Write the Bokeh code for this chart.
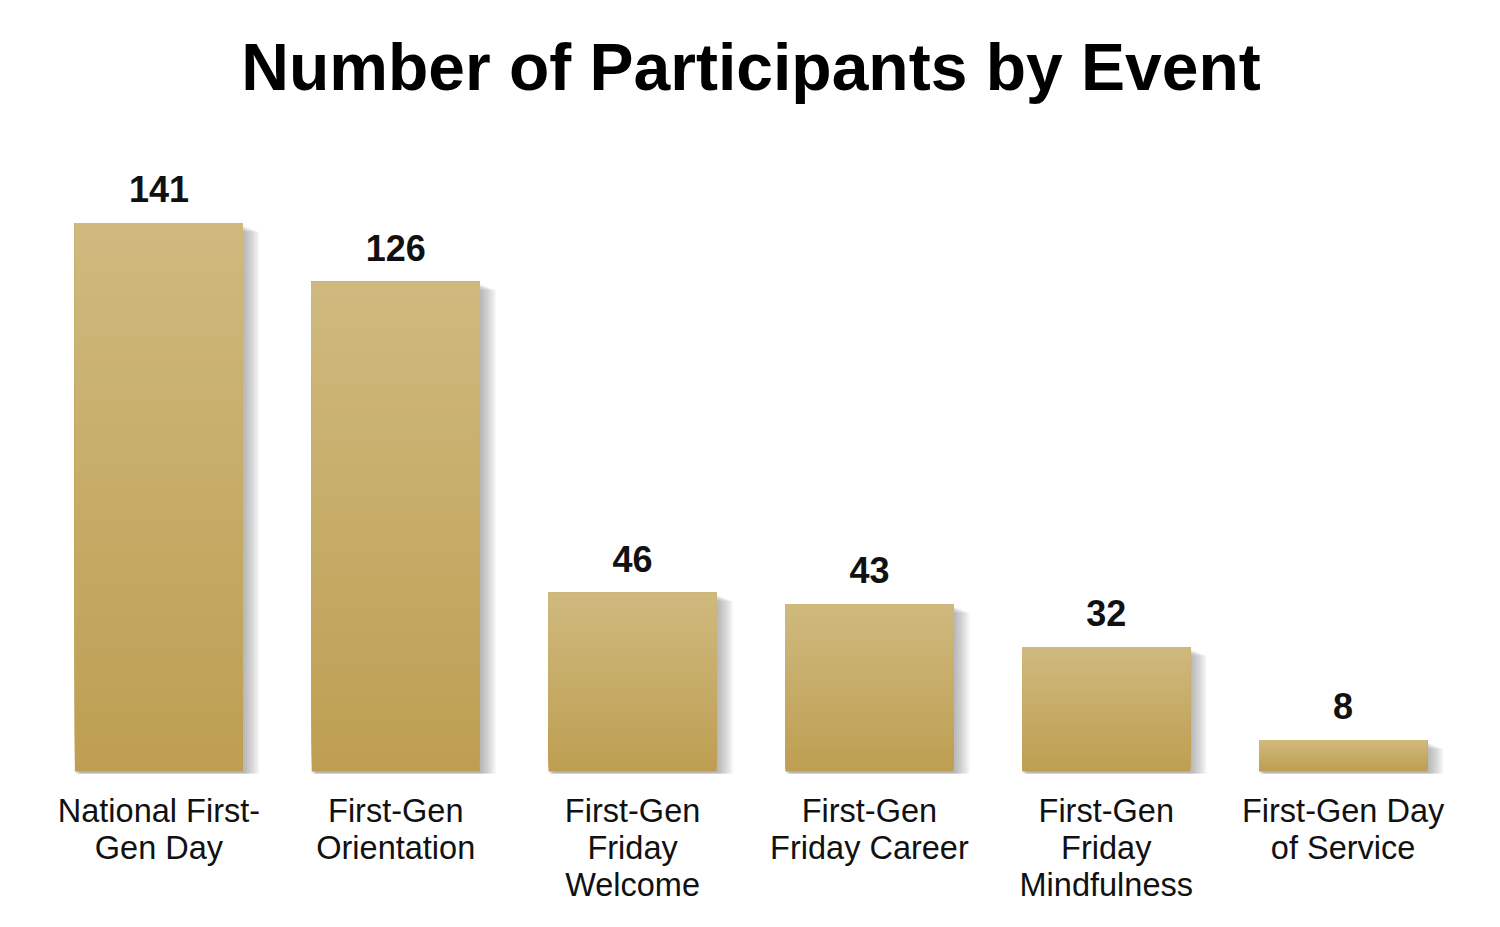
from bokeh.plotting import figure
from bokeh.models import ColumnDataSource, FactorRange, Range1d, Label
from bokeh.core.properties import value
from bokeh.embed import file_html
from bokeh.resources import INLINE

events = [
    "National First-Gen Day",
    "First-Gen Orientation",
    "First-Gen Friday Welcome",
    "First-Gen Friday Career",
    "First-Gen Friday Mindfulness",
    "First-Gen Day of Service",
]
participants = [141, 126, 46, 43, 32, 8]
tick_labels = [
    "National First-\nGen Day",
    "First-Gen\nOrientation",
    "First-Gen\nFriday\nWelcome",
    "First-Gen\nFriday Career",
    "First-Gen\nFriday\nMindfulness",
    "First-Gen Day\nof Service",
]
chart_title = "Number of Participants by Event"

TOP_RGB = (207, 185, 126)
BOT_RGB = (190, 159, 82)
N_SLICES = 60
BAR_W = 0.71

FRAME_W = 1421
PLOT_H = 763          # pixels above the baseline (title lives in here too)
LABEL_H = 145         # pixels below the baseline, room for category labels
PX_PER_UNIT = 3.887
ncat = len(events)
px_x = ncat / FRAME_W        # data units per pixel along x
px_y = 1.0 / PX_PER_UNIT     # data units per pixel along y

p = figure(
    x_range=FactorRange(*events, range_padding=0),
    y_range=Range1d(-LABEL_H / PX_PER_UNIT, PLOT_H / PX_PER_UNIT),
    frame_width=FRAME_W,
    frame_height=PLOT_H + LABEL_H,
    min_border_left=40,
    min_border_right=31,
    min_border_top=8,
    min_border_bottom=5,
    output_backend="svg",
    toolbar_location=None,
    tools="",
)

# ---- title, placed in screen units inside the frame ----
p.add_layout(Label(
    x=FRAME_W / 2, y=PLOT_H + LABEL_H - 58, x_units="screen", y_units="screen",
    text=chart_title, text_font="Liberation Sans", text_font_size="66px",
    text_font_style="bold", text_color="#000000",
    text_align="center", text_baseline="alphabetic",
))

# ---- soft drop shadow: translucent offset copies ----
for dx in range(2, 18, 2):
    left, right, top, bottom = [], [], [], []
    for i, v in enumerate(participants):
        c = i + 0.5
        left.append(c - BAR_W / 2 + dx * px_x * 0.3)
        right.append(c + BAR_W / 2 + dx * px_x)
        top.append(v - (2 + dx * 0.4) * px_y)
        bottom.append(-2 * px_y)
    p.quad(left=left, right=right, top=top, bottom=bottom,
           fill_color="#707070", fill_alpha=0.08, line_color=None)

# ---- bars with vertical gradient (overlapping slices, no seams) ----
sl = dict(left=[], right=[], top=[], bottom=[], color=[])
for i, v in enumerate(participants):
    c = i + 0.5
    for k in range(N_SLICES):
        t = k / (N_SLICES - 1)
        rgb = tuple(round(BOT_RGB[j] + (TOP_RGB[j] - BOT_RGB[j]) * t) for j in range(3))
        sl["left"].append(c - BAR_W / 2)
        sl["right"].append(c + BAR_W / 2)
        sl["bottom"].append(v * k / N_SLICES)
        sl["top"].append(v)
        sl["color"].append("#%02x%02x%02x" % rgb)
p.quad(left="left", right="right", top="top", bottom="bottom",
       fill_color="color", line_color=None, source=ColumnDataSource(sl))

# ---- value labels ----
lbl = ColumnDataSource(dict(x=events, y=participants,
                            t=[str(v) for v in participants]))
p.text(x="x", y="y", text="t", source=lbl,
       text_font=value("Liberation Sans"), text_font_size="36px",
       text_font_style="bold", text_color="#111111",
       text_align="center", text_baseline="bottom", y_offset=-21)

# ---- category labels (multi-line) under the bars ----
cat = ColumnDataSource(dict(x=events, y=[0] * ncat, t=tick_labels))
p.text(x="x", y="y", text="t", source=cat,
       text_font=value("Liberation Sans"), text_font_size="32.5px",
       text_color="#111111", text_align="center", text_baseline="top",
       text_line_height=1.03, y_offset=21)

# ---- axes / grid ----
p.axis.visible = False
p.xgrid.grid_line_color = None
p.ygrid.grid_line_color = None
p.outline_line_color = None
p.background_fill_color = "white"
p.border_fill_color = "white"

open("out.html", "w").write(file_html(p, INLINE))
